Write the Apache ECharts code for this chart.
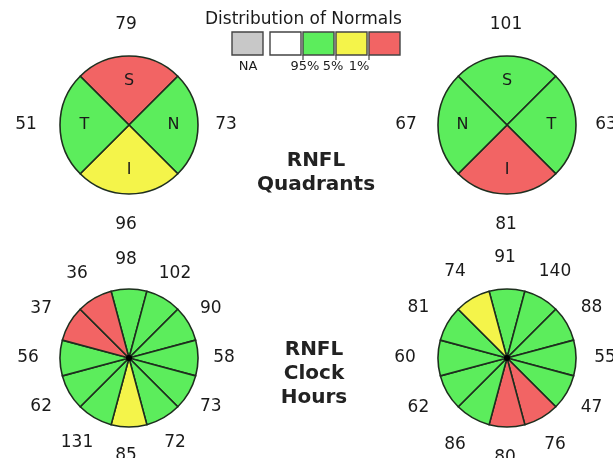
<!DOCTYPE html>
<html>
<head>
<meta charset="utf-8">
<script src="https://cdn.jsdelivr.net/npm/echarts@6/dist/echarts.min.js"></script>
<style>
html, body { margin: 0; padding: 0; background: #fff; }
#main { width: 613px; height: 458px; }
</style>
</head>
<body>
<div id="main"></div>
<script>
// quadrants, clockwise from the top (S first)
var quadNamesOD = ['S', 'N', 'I', 'T'];
var quadValuesOD = [79, 73, 96, 51];
var quadClassOD = ['1%', '95%', '5%', '95%'];

var quadNamesOS = ['S', 'T', 'I', 'N'];
var quadValuesOS = [101, 63, 81, 67];
var quadClassOS = ['95%', '95%', '1%', '95%'];

// clock hours, 12 o'clock first, then clockwise
var clockValuesOD = [98, 102, 90, 58, 73, 72, 85, 131, 62, 56, 37, 36];
var clockClassOD = ['95%', '95%', '95%', '95%', '95%', '95%', '5%', '95%', '95%', '95%', '1%', '1%'];

var clockValuesOS = [91, 140, 88, 55, 47, 76, 80, 86, 62, 60, 81, 74];
var clockClassOS = ['95%', '95%', '95%', '95%', '95%', '1%', '1%', '95%', '95%', '95%', '95%', '5%'];

var legendNames = ['NA', '', '95%', '5%', '1%'];

var classColor = { 'NA': '#c8c8c8', '': '#ffffff', '95%': '#5ced5c', '5%': '#f4f44a', '1%': '#f26464' };
var FONT = 'DejaVu Sans';

var myChart = echarts.init(document.getElementById('main'));

// cfg: center, startAngle, label ring radius + horizontal shift of the label ring
function makePie(cfg, values, classes, names) {
    var c = cfg.center;
    var list = [];
    // coloured sectors
    list.push({
        type: 'pie',
        center: c,
        radius: [0, 69],
        startAngle: cfg.start,
        clockwise: true,
        silent: true,
        label: { show: false },
        labelLine: { show: false },
        itemStyle: { borderColor: '#1e2e1e', borderWidth: 1.6 },
        data: values.map(function (v, i) {
            return { value: 1, name: String(i), itemStyle: { color: classColor[classes[i]] } };
        })
    });
    if (names) {
        // letters inside the sectors
        list.push({
            type: 'pie',
            center: c,
            radius: [14, 69],
            startAngle: cfg.start,
            silent: true,
            avoidLabelOverlap: false,
            itemStyle: { color: 'transparent', borderWidth: 0 },
            label: {
                show: true, position: 'inside', color: '#1a1a1a',
                fontFamily: FONT, fontSize: 16,
                formatter: function (p) { return names[p.dataIndex]; }
            },
            labelLine: { show: false },
            data: values.map(function (v, i) { return { value: 1, name: 'l' + i }; })
        });
    } else {
        // black hub where the clock-hour spokes meet
        list.push({
            type: 'pie',
            center: c,
            radius: [0, 3],
            silent: true,
            label: { show: false },
            itemStyle: { color: '#000' },
            data: [{ value: 1, name: 'hub' }]
        });
    }
    // thickness values around the circle
    list.push({
        type: 'pie',
        center: [c[0] + cfg.shift, c[1]],
        radius: [cfg.ring - 10, cfg.ring + 10],
        startAngle: cfg.start,
        silent: true,
        avoidLabelOverlap: false,
        itemStyle: { color: 'transparent', borderWidth: 0 },
        label: {
            show: true, position: 'inside', color: '#1a1a1a',
            fontFamily: FONT, fontSize: 17,
            formatter: function (p) { return String(values[p.dataIndex]); }
        },
        labelLine: { show: false },
        data: values.map(function (v, i) { return { value: 1, name: 'v' + i }; })
    });
    return list;
}

var series = []
    .concat(makePie({ center: [129, 125], start: 135, ring: 97, shift: -3 }, quadValuesOD, quadClassOD, quadNamesOD))
    .concat(makePie({ center: [507, 125], start: 135, ring: 97, shift: -1 }, quadValuesOS, quadClassOS, quadNamesOS))
    .concat(makePie({ center: [129, 358], start: 105, ring: 95, shift: -3 }, clockValuesOD, clockClassOD, null))
    .concat(makePie({ center: [507, 358], start: 105, ring: 97, shift: -2 }, clockValuesOS, clockClassOS, null));

// legend: title, five boxes, ticks and labels
var boxX = [232, 270, 303, 336, 369];
var graphics = [{
    type: 'text', left: 205, top: 11,
    style: { text: 'Distribution of Normals', font: '17px "DejaVu Sans"', fill: '#1a1a1a' }
}];
boxX.forEach(function (x, i) {
    graphics.push({
        type: 'rect', shape: { x: x, y: 32, width: 31, height: 23 },
        style: { fill: classColor[legendNames[i]], stroke: '#444', lineWidth: 1.4 }
    });
});
[303, 336, 369].forEach(function (x) {
    graphics.push({ type: 'line', shape: { x1: x, y1: 55, x2: x, y2: 60 }, style: { stroke: '#444', lineWidth: 1.2 } });
});
var legLabels = [['NA', 248], ['95%', 305], ['5%', 333], ['1%', 359]];
legLabels.forEach(function (l) {
    graphics.push({
        type: 'text', x: l[1], y: 67,
        style: { text: l[0], font: '13px "DejaVu Sans"', fill: '#1a1a1a', textAlign: 'center', textVerticalAlign: 'middle' }
    });
});
graphics.push({
    type: 'text', x: 316, y: 173,
    style: { text: 'RNFL\nQuadrants', font: 'bold 20px "DejaVu Sans"', fill: '#222', textAlign: 'center', textVerticalAlign: 'middle', lineHeight: 24 }
});
graphics.push({
    type: 'text', x: 314, y: 374,
    style: { text: 'RNFL\nClock\nHours', font: 'bold 20px "DejaVu Sans"', fill: '#222', textAlign: 'center', textVerticalAlign: 'middle', lineHeight: 24 }
});

option = {
    backgroundColor: '#fff',
    animation: false,
    series: series,
    graphic: graphics
};
myChart.setOption(option);
</script>
</body>
</html>
